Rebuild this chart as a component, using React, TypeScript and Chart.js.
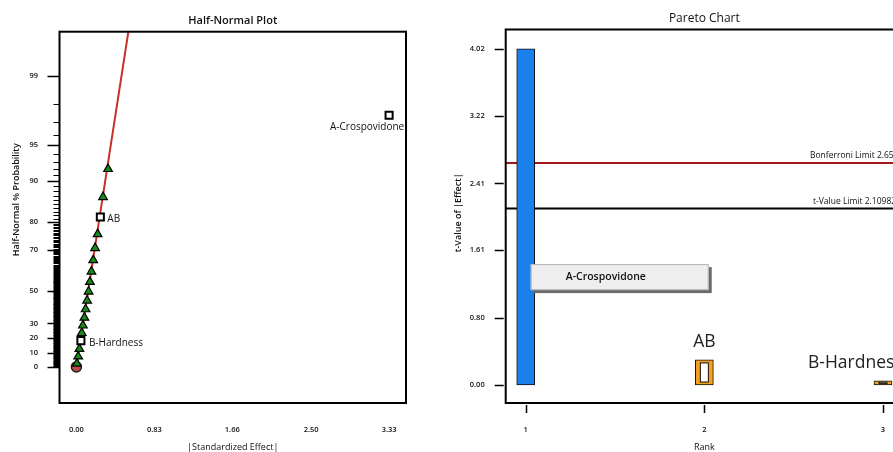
import React, { useEffect, useRef } from 'react';
import { Chart, registerables } from 'chart.js';

Chart.register(...registerables);
Chart.defaults.font.family = '"Open Sans", "DejaVu Sans", sans-serif';

// ---------- Half-Normal plot data ----------
const errorEffects = [0.005, 0.019, 0.032, 0.057, 0.069, 0.085, 0.098, 0.114, 0.13, 0.144, 0.16, 0.179, 0.199, 0.226, 0.284, 0.337];
const errorProbs = [2.3, 7.4, 12.7, 23.6, 28.6, 33.7, 39.0, 44.3, 49.5, 54.8, 60.1, 65.5, 70.7, 76.0, 86.7, 92.0];
const termLabels = ['A-Crospovidone', 'AB', 'B-Hardness'];
const termEffects = [3.33, 0.255, 0.048];
const termProbs = [97.4, 81.5, 18.4];
const originEffects = [0];
const originProbs = [0];
const fitLineEffects = [0, 0.614];
const fitLineProbs = [0, 99.9];
const probTickLabels = [0, 10, 20, 30, 50, 70, 80, 90, 95, 99];
const effectTickLabels = [0, 0.83, 1.66, 2.5, 3.33];

// ---------- Pareto chart data ----------
const ranks = [1, 2, 3];
const paretoTerms = ['A-Crospovidone', 'AB', 'B-Hardness'];
const tValues = [4.02, 0.3, 0.05];
const effectSigns = [1, -1, -1];
const tTickLabels = [0, 0.8, 1.61, 2.41, 3.22, 4.02];
const bonferroniLimit = 2.65317;
const tValueLimit = 2.10982;

// inverse standard normal CDF (Acklam)
function invNorm(p: number): number {
  const a = [-3.969683028665376e1, 2.209460984245205e2, -2.759285104469687e2, 1.38357751867269e2, -3.066479806614716e1, 2.506628277459239];
  const b = [-5.447609879822406e1, 1.615858368580409e2, -1.556989798598866e2, 6.680131188771972e1, -1.328068155288572e1];
  const c = [-7.784894002430293e-3, -3.223964580411365e-1, -2.400758277161838, -2.549732539343734, 4.374664141464968, 2.938163982698783];
  const d = [7.784695709041462e-3, 3.224671290700398e-1, 2.445134137142996, 3.754408661907416];
  const plow = 0.02425;
  if (p <= 0) return -Infinity;
  if (p >= 1) return Infinity;
  if (p < plow) {
    const q = Math.sqrt(-2 * Math.log(p));
    return (((((c[0] * q + c[1]) * q + c[2]) * q + c[3]) * q + c[4]) * q + c[5]) / ((((d[0] * q + d[1]) * q + d[2]) * q + d[3]) * q + 1);
  }
  if (p <= 1 - plow) {
    const q = p - 0.5;
    const r = q * q;
    return ((((((a[0] * r + a[1]) * r + a[2]) * r + a[3]) * r + a[4]) * r + a[5]) * q) / (((((b[0] * r + b[1]) * r + b[2]) * r + b[3]) * r + b[4]) * r + 1);
  }
  const q = Math.sqrt(-2 * Math.log(1 - p));
  return -(((((c[0] * q + c[1]) * q + c[2]) * q + c[3]) * q + c[4]) * q + c[5]) / ((((d[0] * q + d[1]) * q + d[2]) * q + d[3]) * q + 1);
}
const toZ = (pct: number) => invNorm(0.5 + pct / 200);

// minor (unlabelled) probability tick marks
const minorProbTicks: number[] = [];
for (let p = 0.5; p < 80; p += 0.5) if (!probTickLabels.includes(p)) minorProbTicks.push(p);
for (let p = 81; p <= 98; p += 1) if (!probTickLabels.includes(p)) minorProbTicks.push(p);

const FONT = '"Open Sans", "DejaVu Sans", sans-serif';

function leftConfig(): any {
  const decoPlugin = {
    id: 'halfNormalDeco',
    afterDatasetsDraw(chart: any) {
      const { ctx, chartArea: ca } = chart;
      const meta = chart.getDatasetMeta(0);
      const offs = [
        { dx: -22, dy: 12, align: 'center' },
        { dx: 7, dy: 2.5, align: 'left' },
        { dx: 8, dy: 2.6, align: 'left' },
      ];
      ctx.save();
      ctx.beginPath();
      ctx.rect(ca.left, ca.top, ca.right - ca.left, ca.bottom - ca.top);
      ctx.clip();
      ctx.font = `500 10px ${FONT}`;
      ctx.fillStyle = '#111';
      ctx.textBaseline = 'middle';
      meta.data.forEach((pt: any, i: number) => {
        const o = offs[i];
        ctx.textAlign = o.align;
        ctx.fillText(termLabels[i], pt.x + o.dx, pt.y + o.dy);
      });
      ctx.restore();
    },
    afterDraw(chart: any) {
      const { ctx, chartArea: ca, scales } = chart;
      const y = scales.y;
      ctx.save();
      ctx.strokeStyle = '#000';
      ctx.lineWidth = 2;
      ctx.strokeRect(ca.left, ca.top, ca.right - ca.left, ca.bottom - ca.top);
      ctx.lineWidth = 1.4;
      ctx.beginPath();
      probTickLabels.forEach((p) => {
        const py = Math.round(y.getPixelForValue(toZ(p))) + 0.5;
        ctx.moveTo(ca.left - 12, py);
        ctx.lineTo(ca.left, py);
      });
      ctx.stroke();
      ctx.lineWidth = 1;
      ctx.beginPath();
      minorProbTicks.forEach((p) => {
        const py = Math.round(y.getPixelForValue(toZ(p))) + 0.5;
        ctx.moveTo(ca.left - 6, py);
        ctx.lineTo(ca.left, py);
      });
      ctx.stroke();
      ctx.restore();
    },
  };

  return {
    type: 'scatter',
    data: {
      datasets: [
        {
          label: 'Terms',
          data: termEffects.map((x, i) => ({ x, y: toZ(termProbs[i]) })),
          pointStyle: 'rect',
          pointRadius: 5,
          backgroundColor: '#ffffff',
          borderColor: '#000000',
          borderWidth: 2,
        },
        {
          label: 'Error estimates',
          data: errorEffects.map((x, i) => ({ x, y: toZ(errorProbs[i]) })),
          pointStyle: 'triangle',
          pointRadius: 5,
          backgroundColor: '#178a17',
          borderColor: '#000000',
          borderWidth: 1.2,
        },
        {
          label: 'Origin',
          data: originEffects.map((x, i) => ({ x, y: toZ(originProbs[i]) })),
          pointStyle: 'circle',
          pointRadius: 5,
          backgroundColor: '#c2474a',
          borderColor: '#222222',
          borderWidth: 1.5,
        },
        {
          type: 'line',
          label: 'Fit',
          data: fitLineEffects.map((x, i) => ({ x, y: toZ(fitLineProbs[i]) })),
          borderColor: '#c8302c',
          borderWidth: 2,
          pointRadius: 0,
          showLine: true,
          fill: false,
        },
      ],
    },
    options: {
      animation: false,
      responsive: false,
      devicePixelRatio: 1,
      layout: { padding: { left: 0, right: 34, top: 0, bottom: 0 } },
      plugins: {
        legend: { display: false },
        tooltip: { enabled: false },
        title: {
          display: true,
          text: 'Half-Normal Plot',
          fullSize: false,
          color: '#111',
          font: { family: FONT, size: 11, weight: '600' },
          padding: { top: 14, bottom: 4.5 },
        },
      },
      scales: {
        x: {
          type: 'linear',
          min: -0.18,
          max: 3.51,
          grid: { display: false },
          border: { display: false },
          afterBuildTicks: (s: any) => {
            s.ticks = effectTickLabels.map((v) => ({ value: v }));
          },
          afterFit: (s: any) => {
            s.height = 49;
          },
          ticks: {
            autoSkip: false,
            maxRotation: 0,
            padding: 14,
            color: '#111',
            font: { family: FONT, size: 7.5, weight: '600' },
            callback: (v: any) => Number(v).toFixed(2),
          },
          title: {
            display: true,
            text: '|Standardized Effect|',
            color: '#111',
            font: { family: FONT, size: 9, lineHeight: 1, weight: '500' },
            padding: { top: 0, bottom: 0 },
          },
        },
        y: {
          type: 'linear',
          min: -0.319,
          max: 2.965,
          grid: { display: false },
          border: { display: false },
          afterBuildTicks: (s: any) => {
            s.ticks = probTickLabels.map((p) => ({ value: toZ(p) }));
          },
          afterFit: (s: any) => {
            s.width = 59.5;
          },
          ticks: {
            autoSkip: false,
            padding: 13.5,
            color: '#111',
            font: { family: FONT, size: 7.5, weight: '600' },
            callback: (_v: any, i: number) => String(probTickLabels[i]),
          },
          title: {
            display: true,
            text: '               Half-Normal % Probability',
            color: '#111',
            font: { family: FONT, size: 9, lineHeight: 1, weight: '600' },
            padding: { top: 12, bottom: 0 },
          },
        },
      },
    },
    plugins: [decoPlugin],
  };
}

function rightConfig(): any {
  const decoPlugin = {
    id: 'paretoDeco',
    beforeDatasetsDraw(chart: any) {
      const { ctx, chartArea: ca, scales } = chart;
      const y = scales.y;
      ctx.save();
      ctx.lineWidth = 2;
      const by = y.getPixelForValue(bonferroniLimit);
      ctx.strokeStyle = '#a3161a';
      ctx.beginPath();
      ctx.moveTo(ca.left, by);
      ctx.lineTo(ca.right, by);
      ctx.stroke();
      const ty = y.getPixelForValue(tValueLimit);
      ctx.strokeStyle = '#000';
      ctx.beginPath();
      ctx.moveTo(ca.left, ty);
      ctx.lineTo(ca.right, ty);
      ctx.stroke();
      ctx.fillStyle = '#111';
      ctx.font = `500 8.5px ${FONT}`;
      ctx.textAlign = 'left';
      ctx.textBaseline = 'bottom';
      ctx.fillText(`Bonferroni Limit ${bonferroniLimit}`, ca.right - 93, by - 3);
      ctx.fillText(`t-Value Limit ${tValueLimit}`, ca.right - 90, ty - 3);
      ctx.restore();
    },
    afterDatasetsDraw(chart: any) {
      const { ctx, scales } = chart;
      const y = scales.y;
      const meta = chart.getDatasetMeta(0);
      ctx.save();
      // inner white rect of negative-effect bars
      meta.data.forEach((bar: any, i: number) => {
        if (effectSigns[i] > 0) return;
        const h = bar.base - bar.y;
        const ix = 5;
        const iy = Math.min(3, h / 3);
        const l = bar.x - bar.width / 2 + ix;
        const w = bar.width - 2 * ix;
        const t = bar.y + iy;
        const ih = h - 2 * iy;
        if (ih <= 0) return;
        ctx.fillStyle = '#fff';
        ctx.fillRect(l, t, w, ih);
        ctx.strokeStyle = '#111';
        ctx.lineWidth = 1;
        ctx.strokeRect(l, t, w, ih);
      });
      // term labels
      const b0 = meta.data[0];
      const cy = y.getPixelForValue(1.29);
      const bx = b0.x + 5;
      const bw = 178;
      const bh = 26;
      ctx.fillStyle = '#6a6a6a';
      ctx.fillRect(bx + 3, cy - bh / 2 + 3, bw, bh);
      ctx.fillStyle = '#eeeeee';
      ctx.fillRect(bx, cy - bh / 2, bw, bh);
      ctx.strokeStyle = '#b5b5b5';
      ctx.lineWidth = 1;
      ctx.strokeRect(bx + 0.5, cy - bh / 2 + 0.5, bw - 1, bh - 1);
      ctx.fillStyle = '#111';
      ctx.font = `600 10.5px ${FONT}`;
      ctx.textAlign = 'left';
      ctx.textBaseline = 'middle';
      ctx.fillText(paretoTerms[0], bx + 35, cy);

      ctx.font = `17.5px ${FONT}`;
      ctx.fillStyle = '#222';
      const b1 = meta.data[1];
      ctx.textAlign = 'center';
      ctx.fillText(paretoTerms[1], b1.x, b1.y - 18);
      const b2 = meta.data[2];
      ctx.textAlign = 'left';
      ctx.fillText(paretoTerms[2], b2.x - 75, b2.y - 18);
      ctx.restore();
    },
    afterDraw(chart: any) {
      const { ctx, chartArea: ca, scales } = chart;
      ctx.save();
      ctx.strokeStyle = '#000';
      ctx.lineWidth = 2;
      ctx.strokeRect(ca.left, ca.top, ca.right - ca.left, ca.bottom - ca.top);
      ctx.lineWidth = 1.5;
      ctx.beginPath();
      tTickLabels.forEach((v) => {
        const py = Math.round(scales.y.getPixelForValue(v)) + 0.5;
        ctx.moveTo(ca.left - 11, py);
        ctx.lineTo(ca.left - 2, py);
      });
      ranks.forEach((r) => {
        const px = Math.round(scales.x.getPixelForValue(r)) + 0.5;
        ctx.moveTo(px, ca.bottom + 2);
        ctx.lineTo(px, ca.bottom + 10);
      });
      ctx.stroke();
      ctx.restore();
    },
  };

  return {
    type: 'bar',
    data: {
      datasets: [
        {
          label: 't-Value of |Effect|',
          data: ranks.map((r, i) => ({ x: r, y: tValues[i] })),
          backgroundColor: effectSigns.map((s) => (s > 0 ? '#1a80ec' : '#f4a21e')),
          borderColor: '#111111',
          borderWidth: 1,
          borderSkipped: false,
          barThickness: 18,
        },
      ],
    },
    options: {
      animation: false,
      responsive: false,
      devicePixelRatio: 1,
      layout: { padding: { left: 0, right: 17, top: 0, bottom: 0 } },
      plugins: {
        legend: { display: false },
        tooltip: { enabled: false },
        title: {
          display: true,
          text: 'Pareto Chart',
          fullSize: false,
          color: '#111',
          font: { family: FONT, size: 12, weight: '500' },
          padding: { top: 11.8, bottom: 3.3 },
        },
      },
      scales: {
        x: {
          type: 'linear',
          offset: false,
          min: 0.888,
          max: 3.112,
          grid: { display: false, offset: false },
          border: { display: false },
          afterBuildTicks: (s: any) => {
            s.ticks = ranks.map((v) => ({ value: v }));
          },
          afterFit: (s: any) => {
            s.height = 49;
          },
          ticks: {
            autoSkip: false,
            maxRotation: 0,
            padding: 14.5,
            color: '#111',
            font: { family: FONT, size: 7.5, weight: '600' },
            callback: (v: any) => String(v),
          },
          title: {
            display: true,
            text: 'Rank',
            color: '#111',
            font: { family: FONT, size: 9, lineHeight: 1, weight: '500' },
            padding: { top: 0, bottom: 0 },
          },
        },
        y: {
          type: 'linear',
          min: -0.215,
          max: 4.25,
          grid: { display: false },
          border: { display: false },
          afterBuildTicks: (s: any) => {
            s.ticks = tTickLabels.map((v) => ({ value: v }));
          },
          afterFit: (s: any) => {
            s.width = 65.7;
          },
          ticks: {
            autoSkip: false,
            padding: 13,
            color: '#111',
            font: { family: FONT, size: 7.5, weight: '600' },
            callback: (v: any) => Number(v).toFixed(2),
          },
          title: {
            display: true,
            text: '   t-Value of |Effect|',
            color: '#111',
            font: { family: FONT, size: 9, lineHeight: 1, weight: '600' },
            padding: { top: 13.5, bottom: 0 },
          },
        },
      },
    },
    plugins: [decoPlugin],
  };
}

export default function App() {
  const leftRef = useRef<HTMLCanvasElement>(null);
  const rightRef = useRef<HTMLCanvasElement>(null);

  useEffect(() => {
    const c1 = new Chart(leftRef.current as HTMLCanvasElement, leftConfig());
    const c2 = new Chart(rightRef.current as HTMLCanvasElement, rightConfig());
    return () => {
      c1.destroy();
      c2.destroy();
    };
  }, []);

  return (
    <div style={{ position: 'absolute', left: 0, top: 0, width: 893, height: 452, overflow: 'hidden', background: '#fff' }}>
      <canvas ref={leftRef} width={440} height={452} style={{ position: 'absolute', left: 0, top: 0, width: 440, height: 452 }} />
      <canvas ref={rightRef} width={480} height={452} style={{ position: 'absolute', left: 440, top: 0, width: 480, height: 452 }} />
    </div>
  );
}
